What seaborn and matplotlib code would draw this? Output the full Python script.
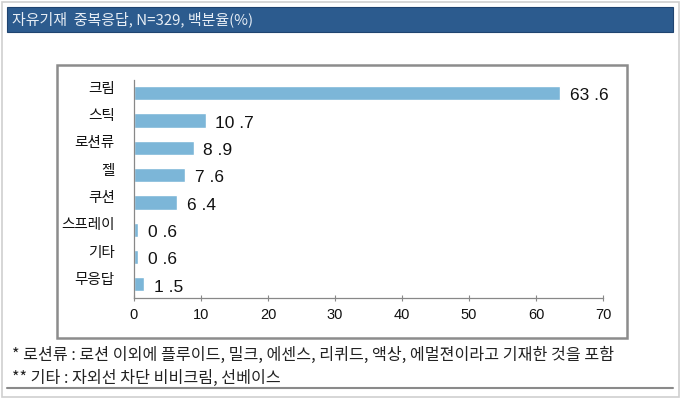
import matplotlib
matplotlib.use("Agg")
import matplotlib.pyplot as plt
import matplotlib.transforms as mtransforms
from matplotlib.patches import Rectangle
from matplotlib.lines import Line2D
import pandas as pd
import seaborn as sns

# Data
categories = ["크림", "스틱", "로션류", "젤", "쿠션", "스프레이", "기타", "무응답"]
values = [63.6, 10.7, 8.9, 7.6, 6.4, 0.6, 0.6, 1.5]
x_ticks = [0, 10, 20, 30, 40, 50, 60, 70]

title = "자유기재  중복응답, N=329, 백분율(%)"
note1 = "* 로션류 : 로션 이외에 플루이드, 밀크, 에센스, 리퀴드, 액상, 에멀젼이라고 기재한 것을 포함"
note2 = "** 기타 : 자외선 차단 비비크림, 선베이스"

df = pd.DataFrame({"category": categories, "value": values})

sns.set_theme(style="white")
plt.rcParams["font.family"] = ["Noto Sans CJK KR", "DejaVu Sans"]
num_font = ["Liberation Sans", "Noto Sans CJK KR"]

W, H = 680, 398
fig = plt.figure(figsize=(W / 100, H / 100), dpi=100)

# outer frame, title bar, inner chart box
fig.patches.append(Rectangle((1.5 / W, 1.5 / H), (W - 3) / W, (H - 3) / H,
                             transform=fig.transFigure, fill=False,
                             edgecolor="#cfcfcf", linewidth=1.2))
fig.patches.append(Rectangle((7 / W, (H - 32) / H), 666 / W, 25 / H,
                             transform=fig.transFigure, facecolor="#2c5b8e",
                             edgecolor="#1f4470", linewidth=0.8))
fig.patches.append(Rectangle((57 / W, (H - 338) / H), 570 / W, 273 / H,
                             transform=fig.transFigure, fill=False,
                             edgecolor="#8c8c8c", linewidth=1.8))
fig.lines.append(Line2D([7 / W, 673 / W], [(H - 388) / H] * 2,
                        transform=fig.transFigure, color="#8a8a8a", linewidth=1.5))

fig.text(12 / W, (H - 19.5) / H, title, color="#e6edf5", fontsize=10.8,
         va="center", ha="left")
fig.text(12 / W, (H - 355) / H, note1, color="#222222", fontsize=11.6,
         va="center", ha="left")
fig.text(12 / W, (H - 378) / H, note2, color="#222222", fontsize=11.6,
         va="center", ha="left")

# plot area
ax = fig.add_axes([134 / W, (H - 298) / H, 469 / W, 218.5 / H])
sns.barplot(data=df, x="value", y="category", orient="h", color="#7cb6d8",
            saturation=1, width=0.52, ax=ax)

ax.set_xlim(0, 70)
ax.set_xticks(x_ticks)
ax.set_xticklabels([str(t) for t in x_ticks], fontsize=10.5, family=num_font,
                   color="#111111")
ax.set_xlabel("")
ax.set_ylabel("")
ax.tick_params(axis="x", direction="inout", length=5, width=0.8,
               color="#888888", pad=5, bottom=True)
ax.tick_params(axis="y", length=0, pad=14, labelsize=10.5, labelcolor="#111111")

# shift category labels a little above bar centers
offset = mtransforms.ScaledTranslation(0, 6 / 100, fig.dpi_scale_trans)
for lab in ax.get_yticklabels():
    lab.set_transform(lab.get_transform() + offset)

for s in ["top", "right"]:
    ax.spines[s].set_visible(False)
for s in ["left", "bottom"]:
    ax.spines[s].set_color("#888888")
    ax.spines[s].set_linewidth(0.9)

# value labels
for i, v in enumerate(values):
    ax.annotate(f"{v:.1f}".replace(".", " ."), xy=(v, i), xytext=(7, -2),
                textcoords="offset points", va="center", ha="left",
                fontsize=12.5, family=num_font, color="#111111")

fig.savefig("out.png", dpi=100)
